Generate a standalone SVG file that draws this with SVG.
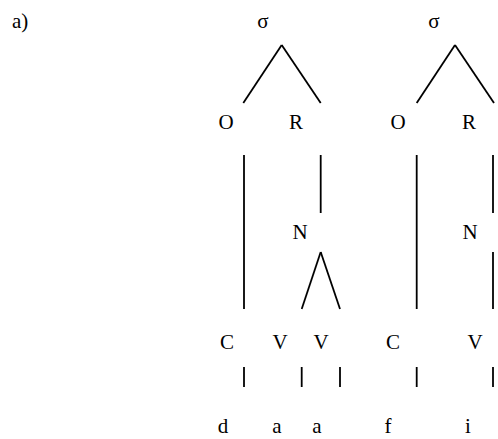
<svg xmlns="http://www.w3.org/2000/svg" width="498" height="439" viewBox="0 0 498 439">
<style>
text{font-family:"Liberation Serif","Times New Roman",serif;font-size:21px;fill:#000;text-anchor:middle}
.lbl{text-anchor:start}
line{stroke:#000;stroke-width:1.8;stroke-linecap:butt}
</style>
<rect width="498" height="439" fill="#fff"/>
<text class="lbl" x="12" y="28">a)</text>
<g id="connectors">
<line x1="281.7" y1="45" x2="243.3" y2="103"/>
<line x1="281.7" y1="45" x2="320.7" y2="103"/>
<line x1="455" y1="45" x2="416.7" y2="103"/>
<line x1="455" y1="45" x2="494" y2="103"/>
<line x1="244" y1="155" x2="244" y2="309"/>
<line x1="320.7" y1="155" x2="320.7" y2="213"/>
<line x1="320.7" y1="252" x2="301.7" y2="309"/>
<line x1="320.7" y1="252" x2="340" y2="309"/>
<line x1="416.7" y1="155" x2="416.7" y2="309"/>
<line x1="493" y1="155" x2="493" y2="213"/>
<line x1="493" y1="252" x2="493" y2="309"/>
<line x1="244" y1="367" x2="244" y2="387"/>
<line x1="301.7" y1="367" x2="301.7" y2="387"/>
<line x1="340" y1="367" x2="340" y2="387"/>
<line x1="416.7" y1="367" x2="416.7" y2="387"/>
<line x1="493" y1="367" x2="493" y2="387"/>
</g>
<g id="sigma1"><text x="263" y="28">σ</text></g>
<g id="sigma2"><text x="434" y="28">σ</text></g>
<g id="O1"><text x="226" y="129">O</text></g>
<g id="R1"><text x="296" y="129">R</text></g>
<g id="O2"><text x="398" y="129">O</text></g>
<g id="R2"><text x="469" y="129">R</text></g>
<g id="N1"><text x="300" y="239">N</text></g>
<g id="N2"><text x="470" y="239">N</text></g>
<g id="C1"><text x="227" y="349">C</text></g>
<g id="V1"><text x="280" y="349">V</text></g>
<g id="V2"><text x="321" y="349">V</text></g>
<g id="C2"><text x="393" y="349">C</text></g>
<g id="V3"><text x="475" y="349">V</text></g>
<g id="s_d"><text x="223" y="433">d</text></g>
<g id="s_a1"><text x="277" y="433">a</text></g>
<g id="s_a2"><text x="317" y="433">a</text></g>
<g id="s_f"><text x="388" y="433">f</text></g>
<g id="s_i"><text x="468" y="433">i</text></g>
</svg>
